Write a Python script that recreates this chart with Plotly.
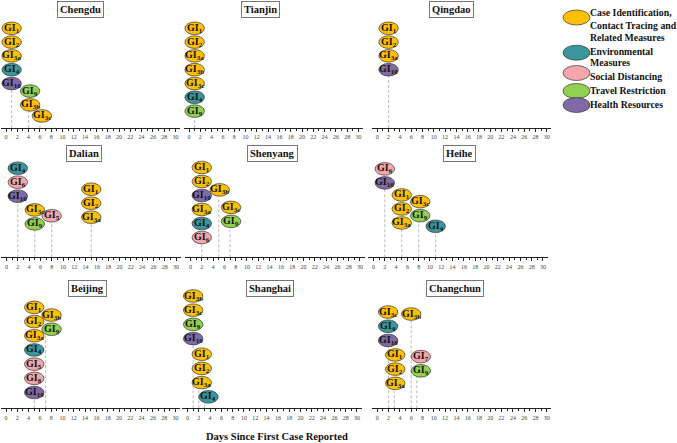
import plotly.graph_objects as go

# ---------------- DATA ----------------
cities = ["Chengdu", "Tianjin", "Qingdao", "Dalian", "Shenyang", "Heihe",
          "Beijing", "Shanghai", "Changchun"]

chengdu_days = [1, 4, 6]
chengdu_measures = [["1", "2", "3a", "4", "10"], ["9", "3b"], ["3c"]]
tianjin_days = [1]
tianjin_measures = [["1", "2", "3a", "3b", "3c", "4", "9"]]
qingdao_days = [2]
qingdao_measures = [["1", "2", "3a", "10"]]
dalian_days = [2, 5, 8, 15]
dalian_measures = [["4", "6", "10"], ["3c", "9"], ["5"], ["1", "2", "3a"]]
shenyang_days = [2, 5, 7]
shenyang_measures = [["1", "2", "10", "3a", "4", "6"], ["3b"], ["3c", "9"]]
heihe_days = [2, 5, 8, 11]
heihe_measures = [["6", "10"], ["1", "2", "3a"], ["3c", "9"], ["4"]]
beijing_days = [5, 7]
beijing_measures = [["1", "2", "3a", "4", "5", "8", "10"], ["3b", "9"]]
shanghai_days = [1, 2, 3]
shanghai_measures = [["3b", "3c", "9", "10"], ["1", "2", "3a"], ["4"]]
changchun_days = [2, 3, 6, 7]
changchun_measures = [["3c", "4", "10"], ["1", "2", "3a"], ["3b"], ["7", "9"]]

categories = ["Case Identification, Contact Tracing and Related Measures",
              "Environmental Measures", "Social Distancing",
              "Travel Restriction", "Health Resources"]
category_of = {"1": 0, "2": 0, "3a": 0, "3b": 0, "3c": 0, "4": 1,
               "5": 2, "6": 2, "7": 2, "8": 2, "9": 3, "10": 4}
tick_values = list(range(0, 31, 2))
x_title = "Days Since First Case Reported"

panel_days = [chengdu_days, tianjin_days, qingdao_days, dalian_days,
              shenyang_days, heihe_days, beijing_days, shanghai_days,
              changchun_days]
panel_measures = [chengdu_measures, tianjin_measures, qingdao_measures,
                  dalian_measures, shenyang_measures, heihe_measures,
                  beijing_measures, shanghai_measures, changchun_measures]

# ---------------- LAYOUT (positions / styles) ----------------
W, H = 677, 443
colors = ["#FFC000", "#3A969B", "#F6A6AA", "#92D050", "#7F6AA6"]
FONT = "Liberation Serif"
# vertical start slot of each stack, and horizontal nudge (px) of the bubbles
stack_start = [[0, 4.55, 6.35], [0], [0], [0.05, 3.03, 3.45, 1.55],
               [0, 1.6, 2.85], [0.1, 1.96, 2.44, 4.2], [0.8, 1.34],
               [0, 4.1, 7.1], [1.13, 4.15, 1.27, 4.27]]
stack_nudge = [[0, 1.5, 2], [0], [0], [0, 0, 0, 0],
               [0, 1, 1], [0, 0, 1.5, 0], [0, 6],
               [0, 3, 4], [-0.5, 1, 0, 4]]
zero_px = [6, 189, 377.3, 6.5, 190.5, 373.5, 6, 187.5, 377.3]
k = 5.65                     # px per day
xr = [-0.9, 30.8]
axis_px = [128, 257.3, 408.3]
top_px = [13, 158, 286]
first_center = [99.7, 89.8, 112.3]
spacing = [13.8, 14.0, 14.2]
ell_w, ell_h = 19.5, 12.6
title_pos = [(80, 9), (260, 9), (452, 9), (84, 153), (272, 153), (459, 153),
             (88, 288), (270, 288), (455, 288)]

fig = go.Figure()
shapes, annotations = [], []

for i, city in enumerate(cities):
    r = i // 3
    n = i + 1
    xa = "xaxis" if n == 1 else f"xaxis{n}"
    ya = "yaxis" if n == 1 else f"yaxis{n}"
    xref = "x" if n == 1 else f"x{n}"
    yref = "y" if n == 1 else f"y{n}"
    z = zero_px[i]
    dom_x = [(z + xr[0] * k) / W, (z + xr[1] * k) / W]
    dom_y = [1 - axis_px[r] / H, 1 - top_px[r] / H]
    fig.update_layout({
        xa: dict(domain=dom_x, range=xr, anchor=yref, showline=True,
                 linecolor="#222", linewidth=1, ticks="outside", ticklen=3,
                 tickwidth=0.8, tickcolor="#222", tickvals=tick_values,
                 tickfont=dict(size=6, color="#444", family=FONT),
                 showgrid=False, zeroline=False,
                 minor=dict(dtick=1, ticks="outside", ticklen=2,
                            tickcolor="#222", tickwidth=0.6)),
        ya: dict(domain=dom_y, range=[0, axis_px[r] - top_px[r]],
                 anchor=xref, visible=False, showgrid=False),
    })
    fig.add_trace(go.Scatter(x=[None], y=[None], xaxis=xref, yaxis=yref,
                             showlegend=False, hoverinfo="skip"))
    hw = ell_w / 2 / k
    for g, (d, meas) in enumerate(zip(panel_days[i], panel_measures[i])):
        s0 = stack_start[i][g]
        xc = d + stack_nudge[i][g] / k
        lowest = None
        for j, m in enumerate(meas):
            yc = first_center[r] - (s0 + j) * spacing[r]
            lowest = yc - ell_h / 2
            shapes.append(dict(type="circle", xref=xref, yref=yref,
                               x0=xc - hw, x1=xc + hw,
                               y0=yc - ell_h / 2, y1=yc + ell_h / 2,
                               fillcolor=colors[category_of[m]],
                               line=dict(color="#333", width=0.7),
                               layer="above"))
            annotations.append(dict(x=xc, y=yc, xref=xref, yref=yref,
                                    text=f"<b>GI<sub>{m}</sub></b>",
                                    showarrow=False,
                                    font=dict(family=FONT, size=10,
                                              color="#111"),
                                    xanchor="center", yanchor="middle"))
        shapes.append(dict(type="line", xref=xref, yref=yref, x0=d, x1=d,
                           y0=0, y1=lowest,
                           line=dict(color="#a8a8a8", width=0.8,
                                     dash="3px,2px"),
                           layer="below"))
    tx, ty = title_pos[i]
    annotations.append(dict(x=tx / W, y=1 - ty / H, xref="paper",
                            yref="paper", text=f"<b>{city}</b>",
                            showarrow=False,
                            font=dict(family=FONT, size=10.5, color="#111"),
                            bordercolor="#777", borderwidth=1, borderpad=2,
                            bgcolor="white", xanchor="center",
                            yanchor="middle"))

# legend (drawn manually)
leg_cy = [17.5, 52.7, 73, 91, 105]
leg_lines = [["Case Identification,", "Contact Tracing and", "Related Measures"],
             ["Environmental", "Measures"], ["Social Distancing"],
             ["Travel Restriction"], ["Health Resources"]]
leg_line_y = [[12.7, 25.3, 37.7], [51.7, 62.7], [76.5], [90.7], [104]]
for c in range(len(categories)):
    cy = leg_cy[c]
    shapes.append(dict(type="circle", xref="paper", yref="paper",
                       x0=563 / W, x1=590 / W,
                       y0=1 - (cy + 7.5) / H, y1=1 - (cy - 7.5) / H,
                       fillcolor=colors[c], line=dict(color="#333", width=0.7)))
    for txt, ly in zip(leg_lines[c], leg_line_y[c]):
        annotations.append(dict(x=588 / W, y=1 - ly / H, xref="paper",
                                yref="paper", text=f"<b>{txt}</b>",
                                showarrow=False, xanchor="left",
                                yanchor="middle",
                                font=dict(family=FONT, size=9.8,
                                          color="#111")))

annotations.append(dict(x=277 / W, y=1 - 436 / H, xref="paper", yref="paper",
                        text=f"<b>{x_title}</b>", showarrow=False,
                        xanchor="center", yanchor="middle",
                        font=dict(family=FONT, size=10.5, color="#111")))

fig.update_layout(width=W, height=H, autosize=False,
                  margin=dict(l=0, r=0, t=0, b=0),
                  paper_bgcolor="white", plot_bgcolor="white",
                  showlegend=False, shapes=shapes, annotations=annotations)

fig.write_html("out.html", config={"displayModeBar": False},
               post_script="document.body.style.margin='0px';"
                           "document.body.style.padding='0px';")
